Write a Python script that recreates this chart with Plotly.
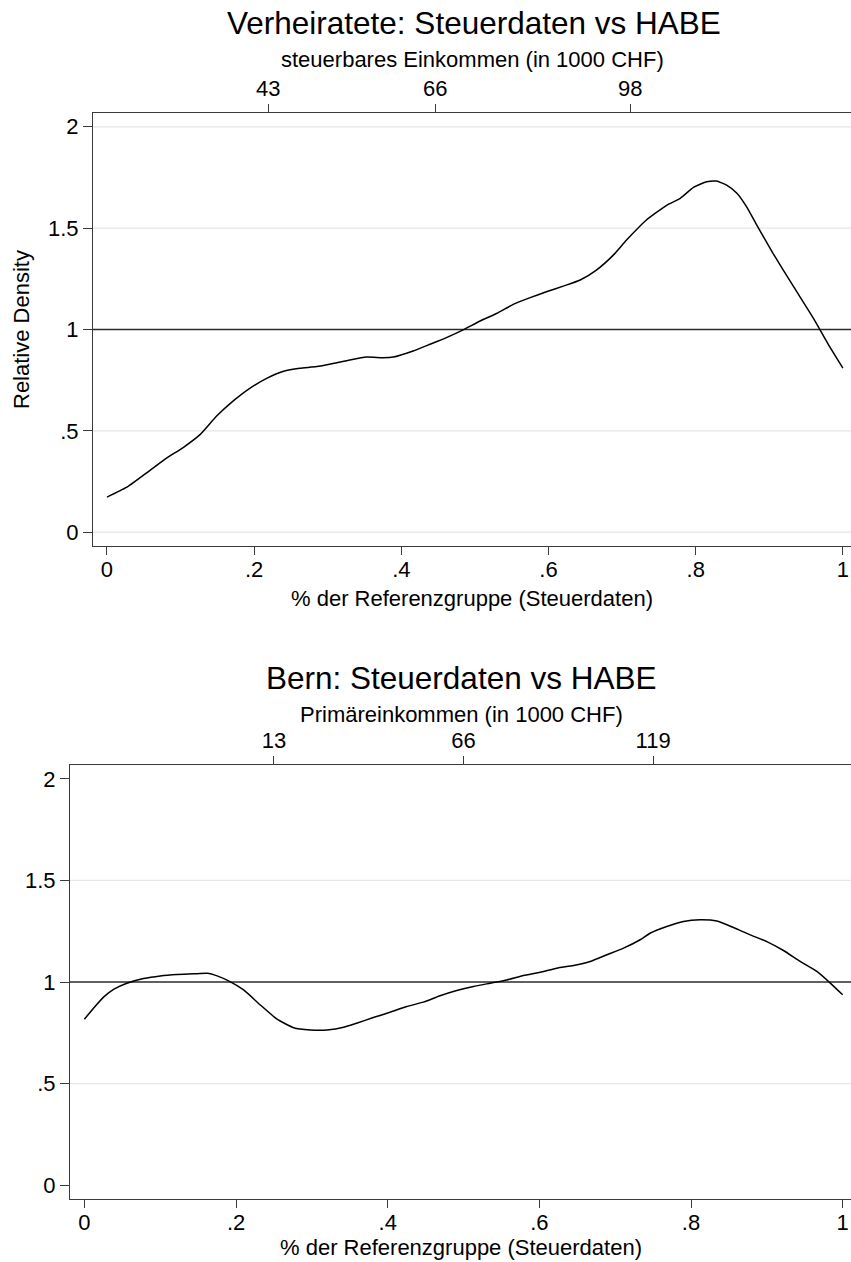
import plotly.graph_objects as go

W, H = 851, 1262

# ---------------- data ----------------
p1_x = [0.000, 0.027, 0.058, 0.081, 0.104, 0.126, 0.149, 0.172, 0.194, 0.217,
        0.240, 0.262, 0.285, 0.308, 0.330, 0.353, 0.375, 0.389, 0.416, 0.439,
        0.462, 0.484, 0.507, 0.530, 0.552, 0.575, 0.597, 0.620, 0.643, 0.665,
        0.688, 0.706, 0.733, 0.761, 0.779, 0.797, 0.815, 0.828, 0.842, 0.856,
        0.869, 0.883, 0.905, 0.933, 0.960, 0.982, 1.000]
p1_y = [0.173, 0.222, 0.304, 0.365, 0.419, 0.480, 0.573, 0.649, 0.710, 0.759,
        0.794, 0.809, 0.817, 0.833, 0.850, 0.864, 0.861, 0.864, 0.894, 0.927,
        0.961, 0.998, 1.042, 1.080, 1.124, 1.157, 1.186, 1.214, 1.244, 1.293,
        1.367, 1.441, 1.540, 1.614, 1.647, 1.701, 1.729, 1.732, 1.712, 1.672,
        1.606, 1.515, 1.376, 1.211, 1.055, 0.915, 0.809]

p2_x = [0.000, 0.012, 0.026, 0.039, 0.056, 0.078, 0.100, 0.122, 0.144, 0.162,
        0.175, 0.192, 0.210, 0.232, 0.254, 0.276, 0.298, 0.320, 0.342, 0.359,
        0.381, 0.403, 0.425, 0.447, 0.469, 0.491, 0.513, 0.535, 0.557, 0.579,
        0.601, 0.623, 0.645, 0.667, 0.689, 0.711, 0.733, 0.746, 0.768, 0.790,
        0.812, 0.834, 0.856, 0.878, 0.900, 0.922, 0.944, 0.966, 0.983, 1.000]
p2_y = [0.817, 0.871, 0.928, 0.965, 0.994, 1.017, 1.030, 1.037, 1.040, 1.043,
        1.030, 1.002, 0.961, 0.887, 0.817, 0.775, 0.764, 0.764, 0.777, 0.797,
        0.825, 0.851, 0.879, 0.901, 0.932, 0.958, 0.978, 0.994, 1.010, 1.032,
        1.048, 1.068, 1.081, 1.101, 1.134, 1.167, 1.208, 1.240, 1.273, 1.298,
        1.306, 1.300, 1.268, 1.232, 1.199, 1.155, 1.101, 1.052, 0.997, 0.937]

x_tickvals = [0, 0.2, 0.4, 0.6, 0.8, 1]
x_ticktext = ["0", ".2", ".4", ".6", ".8", "1"]
y_tickvals = [0, 0.5, 1, 1.5, 2]
y_ticktext = ["0", ".5", "1", "1.5", "2"]

top1_pos = [0.219, 0.446, 0.711]
top1_text = ["43", "66", "98"]
top2_pos = [0.25, 0.50, 0.75]
top2_text = ["13", "66", "119"]

ref_level = 1
grid1 = [0, 0.5, 1.5, 2]
grid2 = [0.5, 1.5]

title1 = "Verheiratete: Steuerdaten vs HABE"
title2 = "Bern: Steuerdaten vs HABE"
top1_title = "steuerbares Einkommen (in 1000 CHF)"
top2_title = "Primäreinkommen (in 1000 CHF)"
x_title = "% der Referenzgruppe (Steuerdaten)"
y_title = "Relative Density"

# ---------------- style ----------------
FONT = "Liberation Sans, Arial, Helvetica, sans-serif"
TICK_FS = 22
TITLE_FS = 31.5
AX_COL = "#3a3a3a"
XR = [-0.019, 1.011]
YR = [-0.068, 2.068]

fig = go.Figure()

line_style = dict(color="black", width=1.5, shape="spline", smoothing=0.5)
fig.add_trace(go.Scatter(x=p1_x, y=p1_y, mode="lines", line=line_style,
                         xaxis="x", yaxis="y", showlegend=False, hoverinfo="skip"))
fig.add_trace(go.Scatter(x=p1_x, y=p1_y, mode="lines", line=dict(width=0),
                         opacity=0, xaxis="x2", yaxis="y", showlegend=False, hoverinfo="skip"))
fig.add_trace(go.Scatter(x=p2_x, y=p2_y, mode="lines", line=line_style,
                         xaxis="x3", yaxis="y2", showlegend=False, hoverinfo="skip"))
fig.add_trace(go.Scatter(x=p2_x, y=p2_y, mode="lines", line=dict(width=0),
                         opacity=0, xaxis="x4", yaxis="y2", showlegend=False, hoverinfo="skip"))

def px_x(px):
    return px / W

def px_y(py):
    return 1 - py / H

dom1_x = [px_x(93), 1]
dom1_y = [px_y(546), px_y(113)]
dom2_x = [px_x(70), 1]
dom2_y = [px_y(1199), px_y(765)]

tickfont = dict(family=FONT, size=TICK_FS, color="black")

def xaxis_bottom(domain, anchor):
    return dict(domain=domain, anchor=anchor, range=XR, tickvals=x_tickvals,
                ticktext=x_ticktext, ticks="outside", ticklen=8, tickwidth=1,
                tickcolor=AX_COL, showline=True, linecolor=AX_COL, linewidth=1,
                showgrid=False, zeroline=False, tickfont=tickfont, fixedrange=True,
                ticklabelstandoff=-4)

def xaxis_top(overlay, anchor, pos, text):
    return dict(overlaying=overlay, anchor=anchor, side="top", range=XR,
                tickvals=pos, ticktext=text, ticks="outside", ticklen=8,
                tickwidth=1, tickcolor=AX_COL, showline=True, linecolor=AX_COL,
                linewidth=1, showgrid=False, zeroline=False, tickfont=tickfont,
                fixedrange=True, ticklabelstandoff=-1)

def yaxis(domain, anchor):
    return dict(domain=domain, anchor=anchor, range=YR, tickvals=y_tickvals,
                ticktext=y_ticktext, ticks="outside", ticklen=9, tickwidth=1,
                tickcolor=AX_COL, showline=True, linecolor=AX_COL, linewidth=1,
                showgrid=False, zeroline=False, tickfont=tickfont, fixedrange=True)

shapes = []
for g in grid1:
    shapes.append(dict(type="line", xref="x domain", yref="y", x0=0, x1=1, y0=g, y1=g,
                       line=dict(color="#e6e6e6", width=1.2), layer="below"))
for g in grid2:
    shapes.append(dict(type="line", xref="x3 domain", yref="y2", x0=0, x1=1, y0=g, y1=g,
                       line=dict(color="#e6e6e6", width=1.2), layer="below"))
shapes.append(dict(type="line", xref="x domain", yref="y", x0=0, x1=1,
                   y0=ref_level, y1=ref_level, line=dict(color="#2b2b2b", width=1.6),
                   layer="below"))
shapes.append(dict(type="line", xref="x3 domain", yref="y2", x0=0, x1=1,
                   y0=ref_level, y1=ref_level, line=dict(color="#2b2b2b", width=1.6),
                   layer="below"))

def ann(text, px, py, size, angle=0):
    return dict(text=text, x=px_x(px), y=px_y(py), xref="paper", yref="paper",
                showarrow=False, xanchor="center", yanchor="middle", textangle=angle,
                font=dict(family=FONT, size=size, color="black"))

annotations = [
    ann(title1, 474, 23, TITLE_FS),
    ann(top1_title, 472, 60, TICK_FS),
    ann(x_title, 472, 598, TICK_FS),
    ann(y_title, 21, 330, TICK_FS, -90),
    ann(title2, 461, 678, TITLE_FS),
    ann(top2_title, 461, 714, TICK_FS),
    ann(x_title, 461, 1247, TICK_FS),
]

fig.update_layout(
    width=W, height=H,
    margin=dict(l=0, r=0, t=0, b=0),
    paper_bgcolor="white", plot_bgcolor="white",
    xaxis=xaxis_bottom(dom1_x, "y"),
    xaxis2=xaxis_top("x", "y", top1_pos, top1_text),
    yaxis=yaxis(dom1_y, "x"),
    xaxis3=xaxis_bottom(dom2_x, "y2"),
    xaxis4=xaxis_top("x3", "y2", top2_pos, top2_text),
    yaxis2=yaxis(dom2_y, "x3"),
    shapes=shapes,
    annotations=annotations,
    showlegend=False,
)

fig.write_html(
    "out.html",
    config={"displayModeBar": False},
    post_script="document.body.style.margin='0px';document.body.style.padding='0px';"
                "document.documentElement.style.overflow='hidden';",
)
